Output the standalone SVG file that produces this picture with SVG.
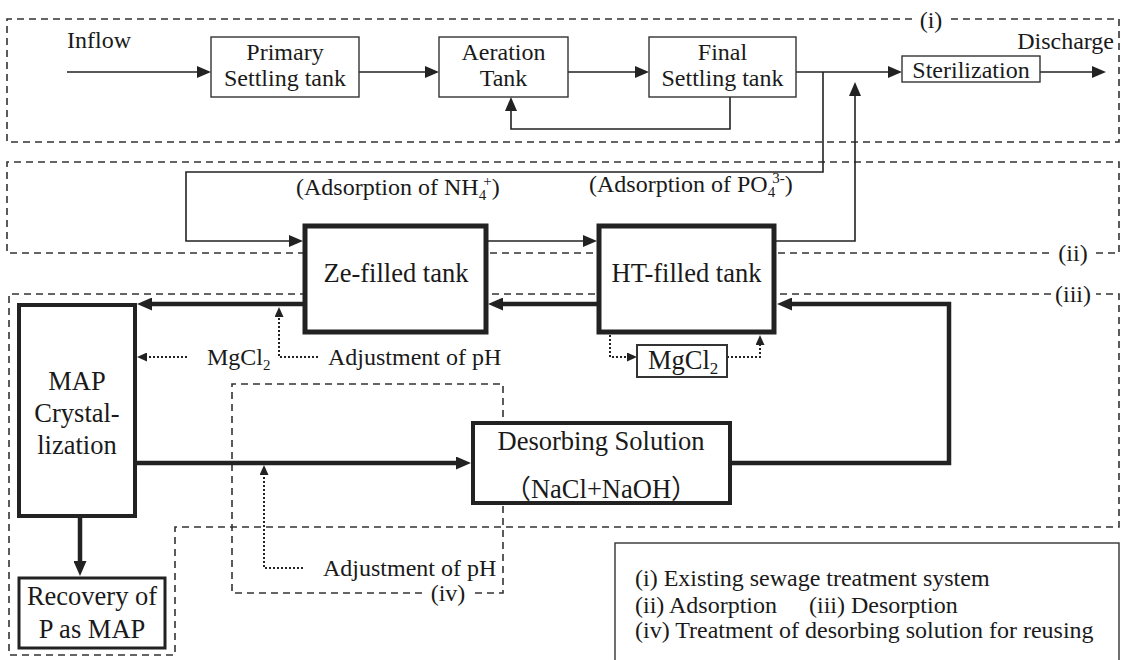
<svg xmlns="http://www.w3.org/2000/svg" width="1123" height="660" viewBox="0 0 1123 660">
<defs>
<style>
text{font-family:"Liberation Serif","Times New Roman",Times,serif;fill:#1a1a1a;}
.cjk{font-family:"Liberation Serif","Times New Roman","Noto Sans CJK SC",serif;}
.s{font-size:24px;}
.b{font-size:26.5px;}
.m{text-anchor:middle;}
.box{fill:#fff;stroke:#333;stroke-width:1.4;}
.tbox{fill:#fff;stroke:#222;stroke-width:5;}
.reg{fill:none;stroke:#333;stroke-width:1.6;stroke-dasharray:7 5;}
.thin{fill:none;stroke:#222;stroke-width:1.6;}
.thick{fill:none;stroke:#222;stroke-width:4.5;}
.dot{fill:none;stroke:#222;stroke-width:2;stroke-dasharray:2 2;}
</style>
<marker id="aThin" viewBox="0 0 14 12" refX="0" refY="6" markerWidth="14" markerHeight="12" markerUnits="userSpaceOnUse" orient="auto"><path d="M0,0 L14,6 L0,12 z" fill="#222"/></marker>
<marker id="aThick" viewBox="0 0 15 13" refX="0" refY="6.5" markerWidth="15" markerHeight="13" markerUnits="userSpaceOnUse" orient="auto"><path d="M0,0 L15,6.5 L0,13 z" fill="#222"/></marker>
<marker id="aDot" viewBox="0 0 10 9" refX="0" refY="4.5" markerWidth="10" markerHeight="9" markerUnits="userSpaceOnUse" orient="auto"><path d="M0,0 L10,4.5 L0,9 z" fill="#222"/></marker>
</defs>
<rect width="1123" height="660" fill="#fff"/>

<g id="regions">
<path class="reg" d="M912 19 H7 V142 H1119 V19 H951"/>
<text class="s m" x="931" y="28">(i)</text>
<path class="reg" d="M1096 253 H1119 V162 H7 V253 H1051"/>
<text class="s m" x="1073" y="261">(ii)</text>
<path class="reg" d="M1051 294 H9 V655 H175 V527 H1119 V294 H1096"/>
<text class="s m" x="1073" y="302">(iii)</text>
<path class="reg" d="M422 593 H232 V384 H503 V593 H475"/>
<text class="s m" x="448" y="601">(iv)</text>
</g>

<g id="connectors">
<path class="thin" marker-end="url(#aThin)" d="M67 72 H197"/>
<path class="thin" marker-end="url(#aThin)" d="M359 72 H425"/>
<path class="thin" marker-end="url(#aThin)" d="M568 72 H635"/>
<path class="thin" marker-end="url(#aThin)" d="M796 72 H888"/>
<path class="thin" marker-end="url(#aThin)" d="M1040 72 H1092"/>
<path class="thin" marker-end="url(#aThin)" d="M730 97 V129 H511 V111"/>
<path class="thin" marker-end="url(#aThin)" d="M823 72 V172 H186 V241 H289"/>
<path class="thin" marker-end="url(#aThin)" d="M488 241 H583"/>
<path class="thin" marker-end="url(#aThin)" d="M776 241 H855 V96"/>
<path class="thick" marker-end="url(#aThick)" d="M732 463 H949 V304 H792"/>
<path class="thick" marker-end="url(#aThick)" d="M597 304 H503"/>
<path class="thick" marker-end="url(#aThick)" d="M303 304 H152"/>
<path class="thick" marker-end="url(#aThick)" d="M137 463 H456"/>
<path class="thick" marker-end="url(#aThick)" d="M80 518 V561"/>
<path class="dot" marker-end="url(#aDot)" d="M187 357 H147"/>
<path class="dot" marker-end="url(#aDot)" d="M318 357 H279 V317"/>
<path class="dot" marker-end="url(#aDot)" d="M303 568 H264 V475"/>
<path class="dot" marker-end="url(#aDot)" d="M610 335 V357 H627"/>
<path class="dot" marker-end="url(#aDot)" d="M727 357 H760 V345"/>
</g>

<g id="inflow"><text class="s" x="67" y="48">Inflow</text></g>
<g id="discharge"><text class="s" x="1114" y="49" text-anchor="end">Discharge</text></g>

<g id="primary">
<rect class="box" x="211" y="37" width="148" height="60"/>
<text class="s m" x="285" y="60">Primary</text>
<text class="s m" x="285" y="86">Settling tank</text>
</g>
<g id="aeration">
<rect class="box" x="439" y="37" width="129" height="60"/>
<text class="s m" x="503.5" y="60">Aeration</text>
<text class="s m" x="503.5" y="86">Tank</text>
</g>
<g id="final">
<rect class="box" x="649" y="37" width="147" height="60"/>
<text class="s m" x="722.5" y="60">Final</text>
<text class="s m" x="722.5" y="86">Settling tank</text>
</g>
<g id="sterilization">
<rect class="box" x="902" y="56" width="138" height="26"/>
<text class="s m" x="971" y="78">Sterilization</text>
</g>

<g id="label-nh4"><text class="s" x="296" y="195">(Adsorption of NH<tspan font-size="15" dy="5">4</tspan><tspan font-size="15" dx="-3" dy="-14">+</tspan><tspan dy="9">)</tspan></text></g>
<g id="label-po4"><text class="s" x="589" y="192">(Adsorption of PO<tspan font-size="15" dy="5">4</tspan><tspan font-size="15" dx="-3" dy="-14">3-</tspan><tspan dy="9">)</tspan></text></g>

<g id="ze-tank">
<rect class="tbox" x="305" y="226" width="181" height="106"/>
<text class="b m" x="396" y="282">Ze-filled tank</text>
</g>
<g id="ht-tank">
<rect class="tbox" x="599" y="226" width="175" height="106"/>
<text class="b m" x="686.5" y="282">HT-filled tank</text>
</g>

<g id="map">
<rect class="tbox" style="stroke-width:4" x="19" y="305" width="116" height="211"/>
<text class="b m" x="77" y="390">MAP</text>
<text class="b m" x="77" y="422">Crystal-</text>
<text class="b m" x="77" y="454">lization</text>
</g>
<g id="mgcl2-left"><text class="s" x="207" y="365">MgCl<tspan font-size="15" dy="5">2</tspan></text></g>
<g id="adj-ph-1"><text class="s" x="328" y="365">Adjustment of pH</text></g>

<g id="mgcl2-box">
<rect class="box" style="stroke-width:2" x="637" y="345" width="90" height="32"/>
<text class="b" x="648" y="369">MgCl<tspan font-size="17" dy="5">2</tspan></text>
</g>

<g id="desorbing">
<rect class="tbox" style="stroke-width:4" x="473" y="423" width="257" height="80"/>
<text class="b m" x="601" y="450">Desorbing Solution</text>
<text class="b m cjk" x="601" y="498">（NaCl+NaOH）</text>
</g>

<g id="adj-ph-2"><text class="s" x="323" y="576">Adjustment of pH</text></g>

<g id="recovery">
<rect class="tbox" style="stroke-width:3" x="19" y="578" width="146" height="70"/>
<text class="b m" x="92" y="605">Recovery of</text>
<text class="b m" x="92" y="638">P as MAP</text>
</g>

<g id="legend">
<rect class="box" x="615" y="543" width="504" height="130"/>
<text class="s" x="635" y="586">(i) Existing sewage treatment system</text>
<text class="s" x="635" y="613">(ii) Adsorption</text>
<text class="s" x="809" y="613">(iii) Desorption</text>
<text class="s" x="635" y="638">(iv) Treatment of desorbing solution for reusing</text>
</g>
</svg>
